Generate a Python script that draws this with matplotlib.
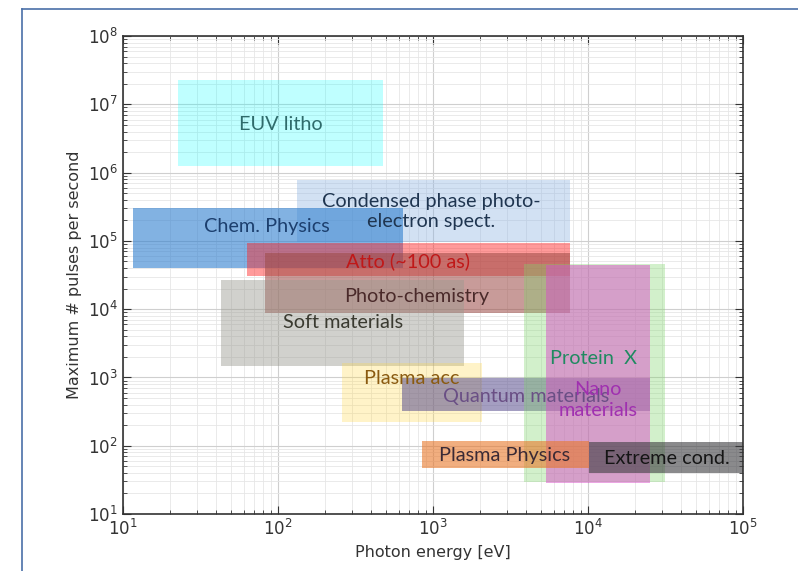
"""Photon-energy vs pulse-rate application map (log-log boxes)."""
import matplotlib
matplotlib.use("Agg")
import matplotlib.pyplot as plt
from matplotlib.lines import Line2D
from matplotlib.patches import Rectangle

# ---- data: application regions (eV range, pulses/s range) ---------------- #
names = ["EUV litho", "Condensed phase photo-\nelectron spect.", "Chem. Physics",
         "Atto (~100 as)", "Photo-chemistry", "Soft materials", "Plasma acc",
         "Quantum materials", "Protein  X", "Nano\nmaterials", "Plasma Physics",
         "Extreme cond."]
e_lo = [22.7, 133, 11.6, 63, 82, 43, 259, 630, 3860, 5360, 850, 10100]
e_hi = [475, 7650, 640, 7650, 7650, 1585, 2070, 25100, 31400, 25100, 10100, 1e5]
n_lo = [1.25e6, 9.6e4, 4.0e4, 3.06e4, 8.8e3, 1.47e3, 223, 324, 29.5, 28, 47, 40]
n_hi = [2.27e7, 7.8e5, 3.03e5, 9.3e4, 6.65e4, 2.68e4, 1.63e3, 984, 4.6e4, 4.4e4, 117, 114]
# label anchor points
lab_e = [104, 970, 85, 690, 789, 262, 733, 3980, 10900, 11600, 2920, 32400]
lab_n = [5.15e6, 2.69e5, 1.65e5, 5.08e4, 1.56e4, 6.28e3, 950, 535, 1870, 469, 71, 66]

fills = ["#00ffff", "#8fb4e3", "#2f7fcf", "#ff2020", "#9c4a45", "#9a9a90", "#ffd84a",
         "#5a4f8f", "#7fd66a", "#d84fc8", "#e8782a", "#3c3c40"]
alphas = [0.25, 0.4, 0.6, 0.45, 0.55, 0.45, 0.3, 0.55, 0.35, 0.5, 0.6, 0.6]
txt_cols = ["#2f6b6b", "#1f3550", "#1c3f6e", "#c01818", "#4a2a2a", "#3a3a30", "#8a5a10",
            "#6a4f85", "#1f8a60", "#a030b0", "#3a2a35", "#151515"]

fig = plt.figure(figsize=(7.98, 5.71), dpi=100)
ax = fig.add_axes([0.154, 0.0998, 0.777, 0.837])
ax.set_xscale("log")
ax.set_yscale("log")
ax.set_xlim(10, 1e5)
ax.set_ylim(10, 1e8)

for x0, x1, y0, y1, c, a in zip(e_lo, e_hi, n_lo, n_hi, fills, alphas):
    ax.add_patch(Rectangle((x0, y0), x1 - x0, y1 - y0, facecolor=c, alpha=a,
                           edgecolor="none", zorder=2))

for name, xe, yn, tc in zip(names, lab_e, lab_n, txt_cols):
    ax.text(xe, yn, name, color=tc, ha="center", va="center", fontsize=14.3,
            family=["Lato", "DejaVu Sans"], linespacing=1.25, zorder=5)

ax.grid(which="major", color="#cfcfcf", lw=0.8, zorder=0)
ax.grid(which="minor", color="#e6e6e6", lw=0.6, zorder=0)
ax.set_axisbelow(True)
ax.tick_params(which="both", direction="in", top=True, right=True, labelsize=12,
               colors="#333333")
ax.tick_params(which="major", length=6)
ax.tick_params(which="minor", length=3)
for s in ax.spines.values():
    s.set_color("#333333")
    s.set_linewidth(1.2)

ax.set_xlabel("Photon energy [eV]", fontsize=11.5, color="#333333")
ax.set_ylabel("Maximum # pulses per second", fontsize=11.5, color="#333333")

# slide-style frame at left and top
fig.add_artist(Line2D([0.028, 0.028], [0.0, 0.984], color="#4a70a8", lw=1.2))
fig.add_artist(Line2D([0.028, 1.0], [0.984, 0.984], color="#4a70a8", lw=1.2))

fig.savefig("out.png", dpi=100)
